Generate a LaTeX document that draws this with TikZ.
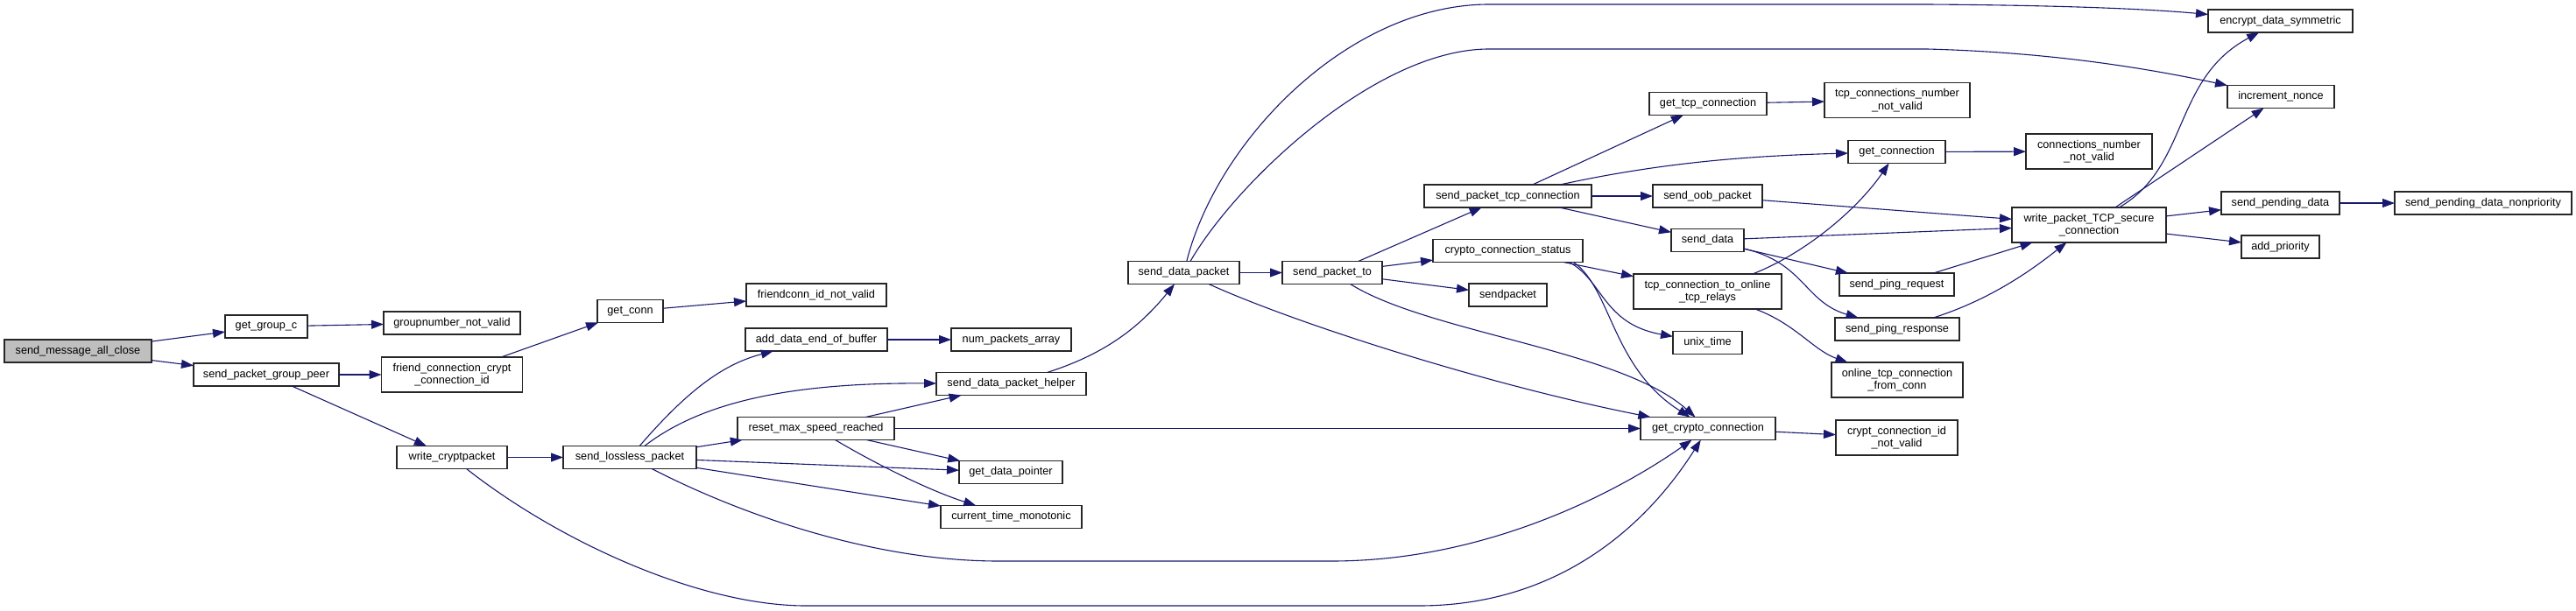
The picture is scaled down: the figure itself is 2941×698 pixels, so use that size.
\documentclass[tikz,border=0pt]{standalone}
\usepackage{fontspec}
\setmainfont{Liberation Sans}
\usetikzlibrary{arrows.meta}
\definecolor{edgeblue}{HTML}{191970}
\definecolor{rootgray}{HTML}{BFBFBF}
\begin{document}
\begin{tikzpicture}[x=1pt,y=-1pt,
  box/.style={draw=black!85, line width=1.2pt, fill=white, rectangle, inner sep=0pt, outer sep=0pt,
    minimum height=26pt, align=center, font=\fontsize{12.7}{14.5}\selectfont},
  tall/.style={minimum height=40pt},
  e/.style={draw=edgeblue, line width=1.1pt, -{Triangle[length=14pt,width=10pt]}},
]
\useasboundingbox (0,0) rectangle (2941,698);

\node[box, fill=rootgray, minimum width=168pt] (smac) at (89,401) {send\_message\_all\_close};
\node[box, minimum width=94pt] (ggc) at (304,373) {get\_group\_c};
\node[box, minimum width=156pt] (gnv) at (516,369) {groupnumber\_not\_valid};
\node[box, minimum width=166pt] (spgp) at (304,428) {send\_packet\_group\_peer};
\node[box, tall, minimum width=161pt] (fcci) at (516,428) {friend\_connection\_crypt\\\_connection\_id};
\node[box, minimum width=75pt] (gconn) at (719.5,355.5) {get\_conn};
\node[box, minimum width=160pt] (fcnv) at (932,337) {friendconn\_id\_not\_valid};
\node[box, minimum width=126pt] (wcp) at (516,522.5) {write\_cryptpacket};
\node[box, minimum width=152pt] (slp) at (719,522.5) {send\_lossless\_packet};
\node[box, minimum width=162pt] (adeob) at (932,388) {add\_data\_end\_of\_buffer};
\node[box, minimum width=137pt] (npa) at (1154.5,388) {num\_packets\_array};
\node[box, minimum width=171pt] (sdph) at (1154.5,438.5) {send\_data\_packet\_helper};
\node[box, minimum width=179pt] (rmsr) at (931.5,489.5) {reset\_max\_speed\_reached};
\node[box, minimum width=118pt] (gdp) at (1154,539.5) {get\_data\_pointer};
\node[box, minimum width=161pt] (ctm) at (1154.5,590.5) {current\_time\_monotonic};
\node[box, minimum width=127pt] (sdp) at (1351.5,311.5) {send\_data\_packet};
\node[box, minimum width=114pt] (spt) at (1521,311.5) {send\_packet\_to};
\node[box, minimum width=191pt] (sptc) at (1721.5,224) {send\_packet\_tcp\_connection};
\node[box, minimum width=171pt] (ccs) at (1721.5,286.5) {crypto\_connection\_status};
\node[box, minimum width=89pt] (sp) at (1721.5,337) {sendpacket};
\node[box, minimum width=134pt] (gtc) at (1950,118.5) {get\_tcp\_connection};
\node[box, tall, minimum width=166pt] (tcnnv) at (2166,114.5) {tcp\_connections\_number\\\_not\_valid};
\node[box, minimum width=111pt] (gc) at (2165.5,173.5) {get\_connection};
\node[box, minimum width=125pt] (sop) at (1949.5,224) {send\_oob\_packet};
\node[box, minimum width=83pt] (sd) at (1949.5,274.5) {send\_data};
\node[box, tall, minimum width=169pt] (tctotr) at (1949.5,333) {tcp\_connection\_to\_online\\\_tcp\_relays};
\node[box, minimum width=79pt] (ut) at (1949.5,391.5) {unix\_time};
\node[box, minimum width=154pt] (gcc) at (1950,489.5) {get\_crypto\_connection};
\node[box, tall, minimum width=144pt] (cnnv) at (2385,173) {connections\_number\\\_not\_valid};
\node[box, minimum width=131pt] (sprq) at (2165.5,325) {send\_ping\_request};
\node[box, minimum width=142pt] (sprs) at (2166,376) {send\_ping\_response};
\node[box, tall, minimum width=150pt] (otcfc) at (2166,434) {online\_tcp\_connection\\\_from\_conn};
\node[box, tall, minimum width=139pt] (ccinv) at (2165.5,500) {crypt\_connection\_id\\\_not\_valid};
\node[box, tall, minimum width=176pt] (wptsc) at (2385,257) {write\_packet\_TCP\_secure\\\_connection};
\node[box, minimum width=165pt] (eds) at (2603.5,24) {encrypt\_data\_symmetric};
\node[box, minimum width=122pt] (inon) at (2604,110.5) {increment\_nonce};
\node[box, minimum width=135pt] (spd) at (2603.5,232) {send\_pending\_data};
\node[box, minimum width=202pt] (spdn) at (2835,232) {send\_pending\_data\_nonpriority};
\node[box, minimum width=89pt] (ap) at (2603.5,282) {add\_priority};

% edges
\draw[e] (smac) -- (ggc);
\draw[e] (smac) -- (spgp);
\draw[e] (ggc) -- (gnv);
\draw[e] (spgp) -- (fcci);
\draw[e] (spgp) -- (wcp);
\draw[e] (fcci) -- (gconn);
\draw[e] (gconn) -- (fcnv);
\draw[e] (wcp) -- (slp);
\draw[e] (wcp) .. controls (640,620) and (800,692) .. (920,692) -- (1620,692) .. controls (1780,692) and (1880,600) .. (gcc);
\draw[e] (slp) .. controls (790,440) and (830,415) .. (adeob);
\draw[e] (slp) .. controls (800,460) and (900,437) .. (sdph);
\draw[e] (slp) -- (rmsr);
\draw[e] (slp) -- (gdp);
\draw[e] (slp) -- (ctm);
\draw[e] (slp) .. controls (850,590) and (1000,641) .. (1140,641) -- (1520,641) .. controls (1700,641) and (1850,560) .. (gcc);
\draw[e] (adeob) -- (npa);
\draw[e] (rmsr) -- (sdph);
\draw[e] (rmsr) -- (gdp);
\draw[e] (rmsr) .. controls (1000,530) and (1060,560) .. (ctm);
\draw[e] (rmsr) -- (gcc);
\draw[e] (sdph) .. controls (1260,405) and (1300,375) .. (sdp);
\draw[e] (sdp) -- (spt);
\draw[e] (sdp) .. controls (1390,160) and (1540,5) .. (1700,5) -- (2200,5) .. controls (2350,6) and (2450,10) .. (eds);
\draw[e] (sdp) .. controls (1410,210) and (1570,56) .. (1700,56) -- (2200,56) .. controls (2350,60) and (2460,80) .. (inon);
\draw[e] (sdp) .. controls (1480,370) and (1700,440) .. (gcc);
\draw[e] (spt) -- (sptc);
\draw[e] (spt) -- (ccs);
\draw[e] (spt) -- (sp);
\draw[e] (spt) .. controls (1630,380) and (1850,400) .. (gcc);
\draw[e] (sptc) -- (gtc);
\draw[e] (sptc) .. controls (1900,185) and (2000,178) .. (gc);
\draw[e] (sptc) -- (sop);
\draw[e] (sptc) -- (sd);
\draw[e] (gtc) -- (tcnnv);
\draw[e] (gc) -- (cnnv);
\draw[e] (sop) -- (wptsc);
\draw[e] (sd) -- (wptsc);
\draw[e] (sd) -- (sprq);
\draw[e] (sd) .. controls (2060,300) and (2060,345) .. (sprs);
\draw[e] (sprq) -- (wptsc);
\draw[e] (sprs) .. controls (2280,340) and (2330,300) .. (wptsc);
\draw[e] (ccs) -- (tctotr);
\draw[e] ([xshift=70pt]ccs.south) .. controls (1830,320) and (1830,370) .. (ut);
\draw[e] ([xshift=75pt]ccs.south) .. controls (1840,330) and (1840,420) .. (gcc);
\draw[e] (tctotr) .. controls (2060,290) and (2120,240) .. (gc);
\draw[e] (tctotr) .. controls (2050,370) and (2070,400) .. (otcfc);
\draw[e] (gcc) -- (ccinv);
\draw[e] (wptsc) .. controls (2500,190) and (2480,90) .. (eds);
\draw[e] (wptsc) -- (inon);
\draw[e] (wptsc) -- (spd);
\draw[e] (wptsc) -- (ap);
\draw[e] (spd) -- (spdn);
\end{tikzpicture}
\end{document}
